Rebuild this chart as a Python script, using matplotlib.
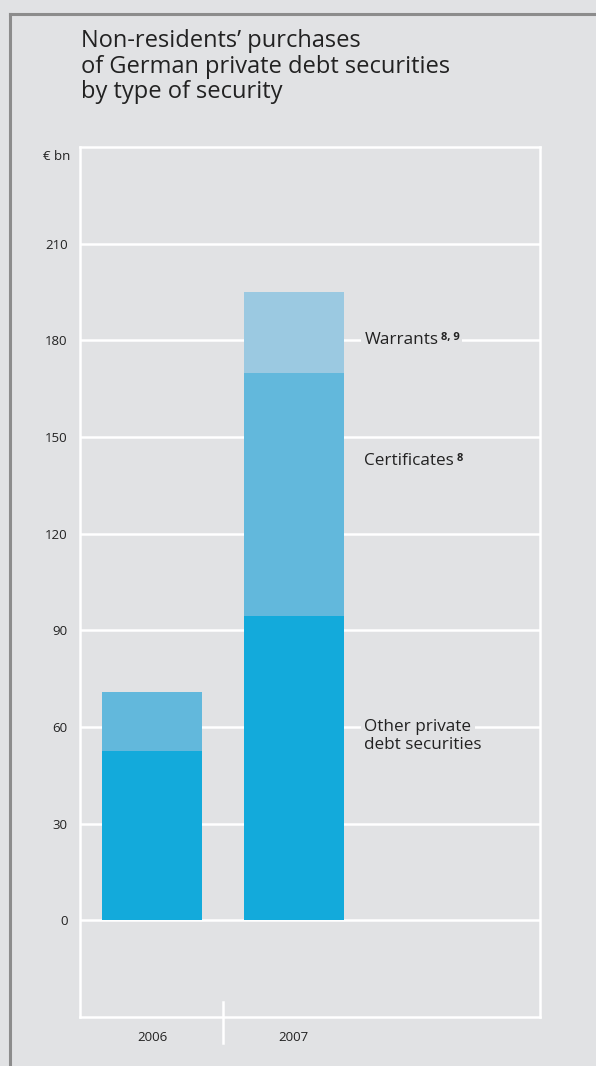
import matplotlib
matplotlib.use("Agg")
import matplotlib.pyplot as plt
from matplotlib.lines import Line2D
import matplotlib.transforms as mtransforms

plt.rcParams['font.family'] = ['Open Sans', 'DejaVu Sans']

years = ["2006", "2007"]
other = [52.5, 94.3]
certificates = [18.5, 75.5]
warrants = [0.0, 25.3]
yticks = [0, 30, 60, 90, 120, 150, 180, 210]
series_labels = ["Other private\ndebt securities", "Certificates", "Warrants"]
series_notes = ["", "8", "8, 9"]
title = "Non-residents\u2019 purchases\nof German private debt securities\nby type of security"
unit = "\u20ac bn"

BG = "#e1e2e4"
C_OTHER = "#13aadb"
C_CERT = "#62b8dc"
C_WARR = "#9bc9e1"
TXT = "#222222"

W, H = 596, 1066
fig = plt.figure(figsize=(W / 100, H / 100), dpi=100, facecolor=BG)

# outer border
fig.add_artist(Line2D([10 / W, 10 / W], [0, 1 - 14 / H], transform=fig.transFigure, color="#8c8c8c", lw=2.2))
fig.add_artist(Line2D([10 / W, 1.0], [1 - 14 / H, 1 - 14 / H], transform=fig.transFigure, color="#8c8c8c", lw=2.2))

fig.text(81 / W, 1 - 29 / H, title, ha="left", va="top", fontsize=17.0, color=TXT, linespacing=1.09)

left, right, top, bottom = 80, 540, 147, 1017
ax = fig.add_axes([left / W, 1 - bottom / H, (right - left) / W, (bottom - top) / H])
ax.set_facecolor(BG)
ax.set_xlim(-0.51, 2.74)
ax.set_ylim(-30, 240)

for s in ax.spines.values():
    s.set_color("white")
    s.set_linewidth(1.8)

ax.set_yticks(yticks)
ax.set_yticklabels([str(v) for v in yticks], fontsize=9.5, color=TXT)
ax.tick_params(axis="y", length=0, pad=9)
ax.set_xticks([0, 1])
ax.set_xticklabels(years, fontsize=9.5, color=TXT)
ax.tick_params(axis="x", length=0, pad=10)
ax.grid(axis="y", color="white", lw=1.8)
ax.set_axisbelow(True)

x = [0, 1]
bw = 0.707
ax.bar(x, other, width=bw, color=C_OTHER, zorder=3)
b2 = [o for o in other]
ax.bar(x, certificates, width=bw, bottom=b2, color=C_CERT, zorder=3)
b3 = [o + c for o, c in zip(other, certificates)]
ax.bar(x, warrants, width=bw, bottom=b3, color=C_WARR, zorder=3)

# divider tick between categories below the frame
trans = mtransforms.blended_transform_factory(ax.transData, ax.transAxes)
ax.add_line(Line2D([0.5, 0.5], [0.017, -0.03], transform=trans, color="white", lw=1.8, clip_on=False))

ax.text(70 / W, 1.0 - 10 / (bottom - top), unit,
        transform=mtransforms.blended_transform_factory(fig.transFigure, ax.transAxes),
        ha="right", va="center", fontsize=9.5, color=TXT)

label_x = 1.5
label_y = [60, 142.5, 180]
box = dict(facecolor=BG, edgecolor="none", pad=2.5)
for lab, note, yy in zip(series_labels, series_notes, label_y):
    if "\n" in lab:
        l1, l2 = lab.split("\n")
        t = ax.text(label_x, yy, l1, ha="left", va="center", fontsize=12.3, color=TXT, bbox=box, zorder=4)
        ax.annotate(l2, xy=(0, 0), xycoords=t, xytext=(0, -1.5), textcoords="offset points",
                    ha="left", va="top", fontsize=12.3, color=TXT, zorder=5)
    else:
        t = ax.text(label_x, yy, lab, ha="left", va="center", fontsize=12.3, color=TXT, bbox=box, zorder=4)
        if note:
            ax.annotate(note, xy=(1, 1), xycoords=t, xytext=(2, 0), textcoords="offset points",
                        ha="left", va="top", fontsize=8, fontweight="bold", color=TXT,
                        bbox=dict(facecolor=BG, edgecolor="none", pad=1.5), zorder=4)

fig.savefig("out.png", dpi=100, facecolor=BG)
